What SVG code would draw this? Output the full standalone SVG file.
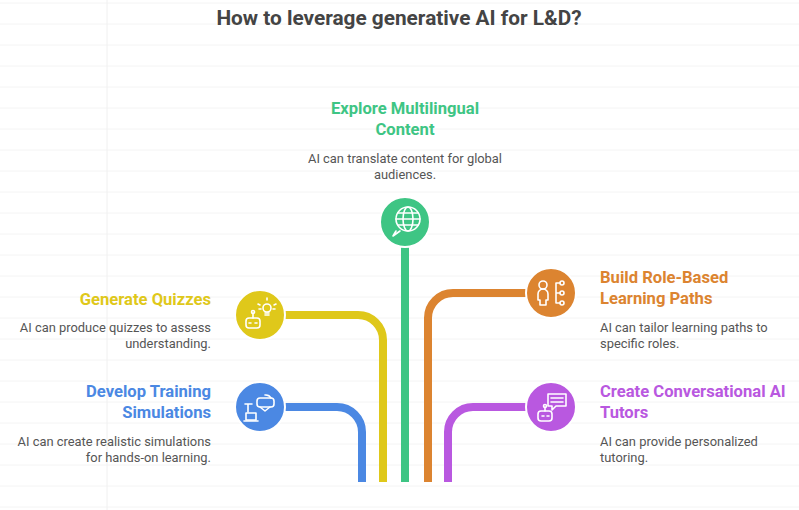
<svg xmlns="http://www.w3.org/2000/svg" width="799" height="510" viewBox="0 0 799 510">
<defs><style>
.h{font-family:Roboto,"Liberation Sans",sans-serif;font-weight:bold;font-size:16.6px}
.b{font-family:Roboto,"Liberation Sans",sans-serif;font-size:12.9px;fill:#555}
.c{fill:none;stroke-width:8}
.i{fill:none;stroke:#fff;stroke-width:1.6;stroke-linecap:round;stroke-linejoin:round}
.g{stroke:#f4f4f4;stroke-width:1}
</style></defs>
<rect width="799" height="510" fill="#fff"/>
<g id="bg">
<path class="g" d="M0 3H799M0 24H799M0 45H799M0 66H799M0 87H799M0 108H799M0 129H799M0 150H799M0 171H799M0 192H799M0 213H799M0 234H799M0 255H799M0 276H799M0 297H799M0 318H799M0 339H799M0 360H799M0 381H799M0 402H799M0 423H799M0 444H799M0 465H799M0 486H799M0 507H799"/>
<path d="M107 0V510" stroke="#f0f0f0"/>
</g>
<text x="399" y="25" text-anchor="middle" font-family="Roboto,'Liberation Sans',sans-serif" font-weight="bold" font-size="20.8" fill="#444">How to leverage generative AI for L&amp;D?</text>
<g id="connectors">
<path class="c" stroke="#3ec584" d="M405 240V482"/>
<path class="c" stroke="#dfc81a" d="M284 315H358A25 25 0 0 1 383 340V482"/>
<path class="c" stroke="#dc8430" d="M527 293H453A25 25 0 0 0 428 318V482"/>
<path class="c" stroke="#4b88e3" d="M284 407H337A25 25 0 0 1 362 432V482"/>
<path class="c" stroke="#b958e0" d="M527 407H473A25 25 0 0 0 448 432V482"/>
</g>
<g id="multilingual">
<circle cx="405" cy="222" r="25" fill="#3ec584" stroke="#fff" stroke-width="2"/>
<g class="i"><circle cx="408" cy="219" r="12"/><ellipse cx="408" cy="219" rx="5" ry="12"/><path d="M396 219H420M398 213H418M398 225H418M396 231L393 236L400 231"/></g>
<text class="h" x="405" y="114" text-anchor="middle" fill="#3ec584">Explore Multilingual</text>
<text class="h" x="405" y="135" text-anchor="middle" fill="#3ec584">Content</text>
<text class="b" x="405" y="163" text-anchor="middle">AI can translate content for global</text>
<text class="b" x="405" y="179" text-anchor="middle">audiences.</text>
</g>
<g id="quizzes">
<circle cx="260" cy="315" r="25" fill="#dfc81a" stroke="#fff" stroke-width="2"/>
<g class="i"><rect x="246" y="318" width="14" height="10" rx="3"/><path d="M253 318V313"/><circle cx="253" cy="312" r="1.5"/><path d="M249 323h2M255 323h2"/><circle cx="267" cy="308" r="4"/><path d="M265 313h4M265 315h4M267 300v-2M260 305l-2-1M274 305l2-1M261 309h-2M273 309h2"/></g>
<text class="h" x="211" y="305" text-anchor="end" fill="#dfc81a">Generate Quizzes</text>
<text class="b" x="211" y="332" text-anchor="end">AI can produce quizzes to assess</text>
<text class="b" x="211" y="348" text-anchor="end">understanding.</text>
</g>
<g id="roles">
<circle cx="551" cy="293" r="25" fill="#dc8430" stroke="#fff" stroke-width="2"/>
<g class="i"><circle cx="543" cy="285" r="4"/><path d="M538 300v-6a5 5 0 0 1 10 0v6h-2v5h-6v-5z"/><path d="M556 293h4M556 283v20M556 283h4M556 303h4"/><circle cx="562" cy="283" r="2"/><circle cx="562" cy="293" r="2"/><circle cx="562" cy="303" r="2"/></g>
<text class="h" x="600" y="283" fill="#dc8430">Build Role-Based</text>
<text class="h" x="600" y="304" fill="#dc8430">Learning Paths</text>
<text class="b" x="600" y="332">AI can tailor learning paths to</text>
<text class="b" x="600" y="348">specific roles.</text>
</g>
<g id="simulations">
<circle cx="260" cy="407" r="25" fill="#4b88e3" stroke="#fff" stroke-width="2"/>
<g class="i"><rect x="257" y="398" width="17" height="9" rx="3"/><path d="M260 407l5 4 5-4M265 395a6 6 0 0 1 6 3"/><path d="M245 404h7M248 404v8"/><rect x="246" y="413" width="10" height="7"/><path d="M244 421h14"/></g>
<text class="h" x="211" y="397" text-anchor="end" fill="#4b88e3">Develop Training</text>
<text class="h" x="211" y="418" text-anchor="end" fill="#4b88e3">Simulations</text>
<text class="b" x="211" y="446" text-anchor="end">AI can create realistic simulations</text>
<text class="b" x="211" y="462" text-anchor="end">for hands-on learning.</text>
</g>
<g id="tutors">
<circle cx="551" cy="407" r="25" fill="#b958e0" stroke="#fff" stroke-width="2"/>
<g class="i"><rect x="538" y="411" width="14" height="10" rx="3"/><path d="M545 411v-4"/><circle cx="545" cy="406" r="1.5"/><path d="M542 416h2M547 416h2"/><path d="M548 394h18v12h-10l-4 4v-4h-4z"/><path d="M551 398h12M551 402h12"/></g>
<text class="h" x="600" y="397" fill="#b958e0">Create Conversational AI</text>
<text class="h" x="600" y="418" fill="#b958e0">Tutors</text>
<text class="b" x="600" y="446">AI can provide personalized</text>
<text class="b" x="600" y="462">tutoring.</text>
</g>
</svg>
